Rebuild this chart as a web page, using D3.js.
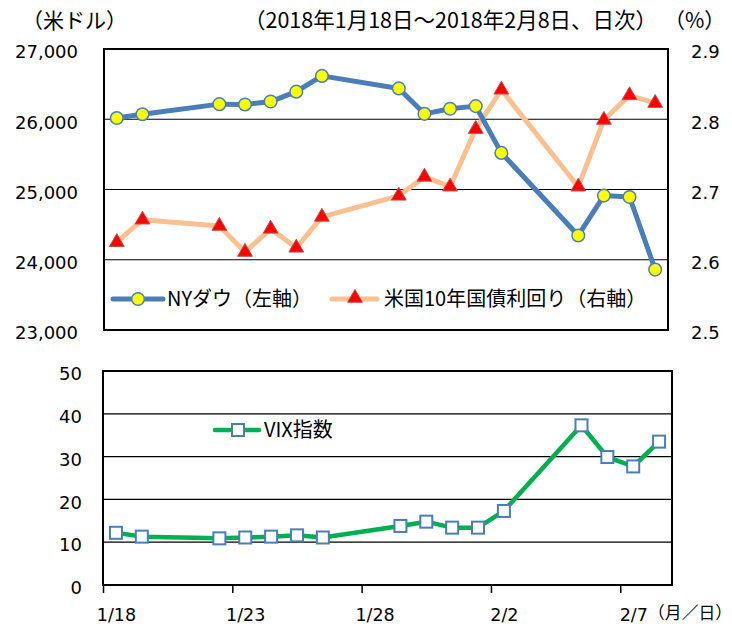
<!DOCTYPE html>
<html>
<head>
<meta charset="utf-8">
<script src="https://cdn.jsdelivr.net/npm/d3@7"></script>
<style>
  body { margin: 0; background: #fff; }
  text { font-family: "Noto Sans CJK JP", "Noto Sans", sans-serif; fill: #000; }
  .num text, text.num { font-family: "DejaVu Sans", sans-serif; }
</style>
</head>
<body>
<svg id="chart" width="732" height="626"></svg>
<script>
// trading days
var dates = ["2018-01-18","2018-01-19","2018-01-22","2018-01-23","2018-01-24","2018-01-25","2018-01-26",
             "2018-01-29","2018-01-30","2018-01-31","2018-02-01","2018-02-02",
             "2018-02-05","2018-02-06","2018-02-07","2018-02-08"];
var dow   = [26017, 26072, 26215, 26211, 26252, 26393, 26617, 26439, 26077, 26149, 26187, 25521, 24346, 24913, 24893, 23860];
var yield10 = [2.625, 2.657, 2.648, 2.611, 2.644, 2.617, 2.661, 2.691, 2.718, 2.704, 2.786, 2.842, 2.704, 2.799, 2.834, 2.823];
var vix   = [12.2, 11.3, 10.9, 11.1, 11.3, 11.6, 11.1, 13.8, 14.8, 13.4, 13.4, 17.3, 37.3, 29.9, 27.7, 33.5];

var dowTicks = [23000, 24000, 25000, 26000, 27000];
var yieldTicks = [2.5, 2.6, 2.7, 2.8, 2.9];
var vixTicks = [0, 10, 20, 30, 40, 50];
var xLabels = ["2018-01-18","2018-01-23","2018-01-28","2018-02-02","2018-02-07"];

var parse = d3.timeParse("%Y-%m-%d");
var half = 12 * 3600 * 1000;
var first = parse(dates[0]), last = parse(dates[dates.length - 1]);
var dom = [new Date(+first - half), new Date(+last + half)];

var svg = d3.select("#chart");

// ---------- top panel ----------
var tp = {l: 104, r: 668, t: 49, b: 330};
var xT = d3.scaleTime().domain(dom).range([tp.l, tp.r]);
var yL = d3.scaleLinear().domain([23000, 27000]).range([tp.b, tp.t]);
var yR = d3.scaleLinear().domain([2.5, 2.9]).range([tp.b, tp.t]);

var gTop = svg.append("g");
gTop.selectAll("line.grid").data(dowTicks.slice(1, -1)).enter().append("line")
    .attr("x1", tp.l).attr("x2", tp.r)
    .attr("y1", function (d) { return yL(d); }).attr("y2", function (d) { return yL(d); })
    .attr("stroke", "#000").attr("stroke-width", 1.2);
gTop.append("rect").attr("x", tp.l).attr("y", tp.t)
    .attr("width", tp.r - tp.l).attr("height", tp.b - tp.t)
    .attr("fill", "none").attr("stroke", "#000").attr("stroke-width", 2);

var fmt = d3.format(",");
gTop.append("g").attr("class", "num").attr("transform", "translate(78,3)")
    .call(d3.axisLeft(yL).tickValues(dowTicks).tickFormat(fmt).tickSize(0).tickPadding(0))
    .call(function (g) { g.select(".domain").remove(); })
    .selectAll("text").attr("font-size", 18).attr("fill", "#000");
gTop.append("g").attr("class", "num").attr("transform", "translate(691,3)")
    .call(d3.axisRight(yR).tickValues(yieldTicks).tickFormat(d3.format(".1f")).tickSize(0).tickPadding(0))
    .call(function (g) { g.select(".domain").remove(); })
    .selectAll("text").attr("font-size", 18).attr("fill", "#000");

var dowData = dates.map(function (d, i) { return {x: parse(d), y: dow[i]}; });
var yData = dates.map(function (d, i) { return {x: parse(d), y: yield10[i]}; });

gTop.append("path").datum(yData)
    .attr("fill", "none").attr("stroke", "#FAC090").attr("stroke-width", 5).attr("stroke-linejoin", "round")
    .attr("d", d3.line().x(function (d) { return xT(d.x); }).y(function (d) { return yR(d.y); }));
gTop.append("path").datum(dowData)
    .attr("fill", "none").attr("stroke", "#4A7EBB").attr("stroke-width", 5).attr("stroke-linejoin", "round")
    .attr("d", d3.line().x(function (d) { return xT(d.x); }).y(function (d) { return yL(d.y); }));

var tri = d3.symbol().type(d3.symbolTriangle).size(95);
gTop.selectAll("path.tri").data(yData).enter().append("path")
    .attr("class", "tri")
    .attr("d", tri)
    .attr("transform", function (d) { return "translate(" + xT(d.x) + "," + yR(d.y) + ")"; })
    .attr("fill", "#FF0000").attr("stroke", "#C0504D").attr("stroke-width", 1);
gTop.selectAll("circle.dot").data(dowData).enter().append("circle")
    .attr("class", "dot")
    .attr("cx", function (d) { return xT(d.x); }).attr("cy", function (d) { return yL(d.y); })
    .attr("r", 6.3)
    .attr("fill", "#FFFF00").attr("stroke", "#4A7EBB").attr("stroke-width", 1.5);

// legend top
gTop.append("line").attr("x1", 113).attr("x2", 163).attr("y1", 299).attr("y2", 299)
    .attr("stroke", "#4A7EBB").attr("stroke-width", 5).attr("stroke-linecap", "round");
gTop.append("circle").attr("cx", 138).attr("cy", 299).attr("r", 6.3)
    .attr("fill", "#FFFF00").attr("stroke", "#4A7EBB").attr("stroke-width", 1.5);
gTop.append("text").attr("x", 167).attr("y", 306).attr("font-size", 20).text("NYダウ（左軸）");

gTop.append("line").attr("x1", 332).attr("x2", 377).attr("y1", 299).attr("y2", 299)
    .attr("stroke", "#FAC090").attr("stroke-width", 5).attr("stroke-linecap", "round");
gTop.append("path").attr("d", tri).attr("transform", "translate(355,298)")
    .attr("fill", "#FF0000").attr("stroke", "#C0504D").attr("stroke-width", 1);
gTop.append("text").attr("x", 384).attr("y", 306).attr("font-size", 20).text("米国10年国債利回り（右軸）");

// titles
svg.append("text").attr("x", 22).attr("y", 28).attr("font-size", 21).text("（米ドル）");
svg.append("text").attr("x", 244).attr("y", 28).attr("font-size", 21.5).text("（2018年1月18日～2018年2月8日、日次）");
svg.append("text").attr("x", 664).attr("y", 28).attr("font-size", 21).text("（%）");

// ---------- bottom panel ----------
var bt = {l: 103, r: 672, t: 371, b: 585};
var xB = d3.scaleTime().domain(dom).range([bt.l, bt.r]);
var yV = d3.scaleLinear().domain([0, 50]).range([bt.b, bt.t]);

var gBot = svg.append("g");
gBot.selectAll("line.grid").data(vixTicks.slice(1, -1)).enter().append("line")
    .attr("x1", bt.l).attr("x2", bt.r)
    .attr("y1", function (d) { return yV(d); }).attr("y2", function (d) { return yV(d); })
    .attr("stroke", "#000").attr("stroke-width", 1.2);
gBot.append("rect").attr("x", bt.l).attr("y", bt.t)
    .attr("width", bt.r - bt.l).attr("height", bt.b - bt.t)
    .attr("fill", "none").attr("stroke", "#000").attr("stroke-width", 2);

gBot.append("g").attr("class", "num").attr("transform", "translate(82,3)")
    .call(d3.axisLeft(yV).tickValues(vixTicks).tickSize(0).tickPadding(0))
    .call(function (g) { g.select(".domain").remove(); })
    .selectAll("text").attr("font-size", 18).attr("fill", "#000");

// tick marks at the day boundaries, labels at the day centres
var tickDates = xLabels.map(function (d) { return new Date(+parse(d) - half); });
gBot.append("g").attr("transform", "translate(0," + bt.b + ")")
    .call(d3.axisBottom(xB).tickValues(tickDates).tickSize(8).tickFormat(""))
    .call(function (g) {
      g.select(".domain").remove();
      g.selectAll("line").attr("stroke-width", 1.5);
    });
gBot.append("g").attr("class", "num").attr("transform", "translate(0," + bt.b + ")")
    .call(d3.axisBottom(xB).tickValues(xLabels.map(parse)).tickSize(0).tickPadding(24)
      .tickFormat(d3.timeFormat("%-m/%-d")))
    .call(function (g) { g.select(".domain").remove(); })
    .selectAll("text").attr("font-size", 17.5).attr("fill", "#000");
svg.append("text").attr("x", 732).attr("y", 619).attr("font-size", 16.8)
    .attr("text-anchor", "end").text("（月／日）");

var vData = dates.map(function (d, i) { return {x: parse(d), y: vix[i]}; });
gBot.append("path").datum(vData)
    .attr("fill", "none").attr("stroke", "#00B050").attr("stroke-width", 4.5).attr("stroke-linejoin", "round")
    .attr("d", d3.line().x(function (d) { return xB(d.x); }).y(function (d) { return yV(d.y); }));
gBot.selectAll("rect.sq").data(vData).enter().append("rect")
    .attr("class", "sq")
    .attr("x", function (d) { return xB(d.x) - 6; }).attr("y", function (d) { return yV(d.y) - 6; })
    .attr("width", 12).attr("height", 12)
    .attr("fill", "#fff").attr("stroke", "#4A7EBB").attr("stroke-width", 2);

// legend bottom
gBot.append("line").attr("x1", 215).attr("x2", 259).attr("y1", 430).attr("y2", 430)
    .attr("stroke", "#00B050").attr("stroke-width", 4.5).attr("stroke-linecap", "round");
gBot.append("rect").attr("x", 232).attr("y", 424).attr("width", 12).attr("height", 12)
    .attr("fill", "#fff").attr("stroke", "#4A7EBB").attr("stroke-width", 2);
gBot.append("text").attr("x", 264).attr("y", 437).attr("font-size", 20).text("VIX指数");
</script>
</body>
</html>
